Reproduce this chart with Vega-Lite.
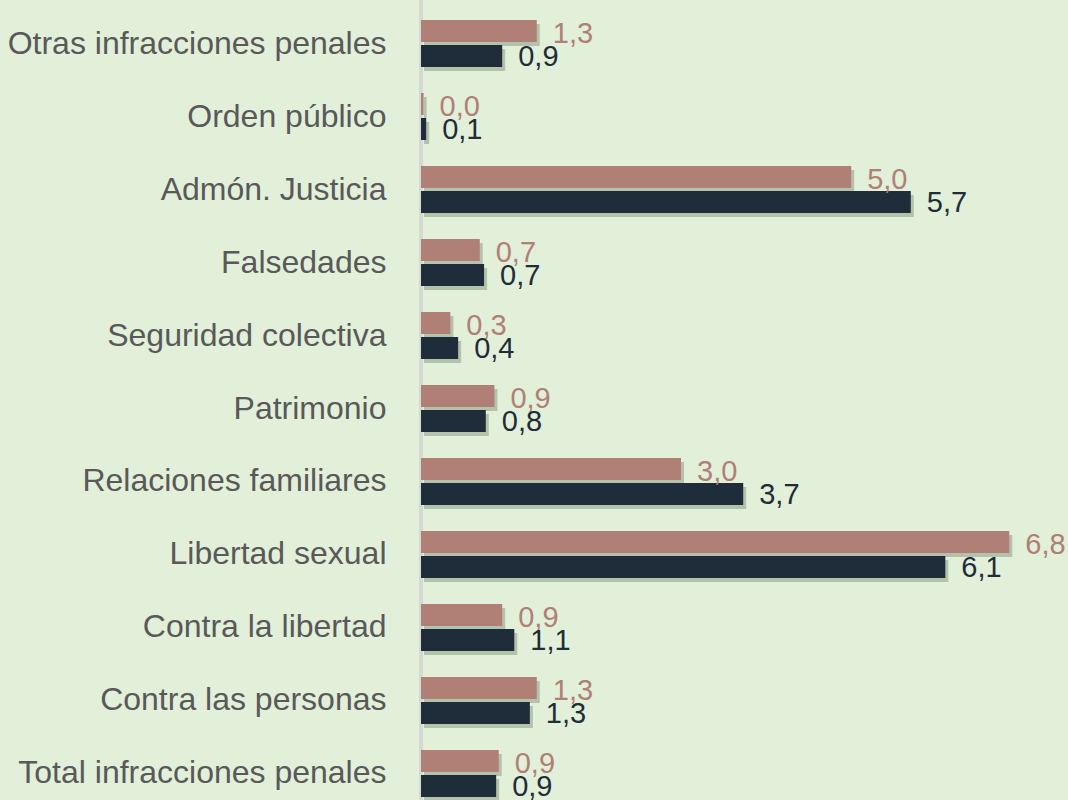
{
  "$schema": "https://vega.github.io/schema/vega-lite/v6.json",
  "autosize": "none",
  "padding": {"left": 421, "top": 0, "right": 0, "bottom": 0},
  "width": 647,
  "height": 800,
  "background": "#e2efd9",
  "config": {"view": {"stroke": null}, "font": "Liberation Sans"},
  "data": {"values": [
    {"cat": "Otras infracciones penales", "serie": "Serie 1", "v": 1.34, "label": "1,3"},
    {"cat": "Otras infracciones penales", "serie": "Serie 2", "v": 0.94, "label": "0,9"},
    {"cat": "Orden público", "serie": "Serie 1", "v": 0.03, "label": "0,0"},
    {"cat": "Orden público", "serie": "Serie 2", "v": 0.06, "label": "0,1"},
    {"cat": "Admón. Justicia", "serie": "Serie 1", "v": 4.98, "label": "5,0"},
    {"cat": "Admón. Justicia", "serie": "Serie 2", "v": 5.67, "label": "5,7"},
    {"cat": "Falsedades", "serie": "Serie 1", "v": 0.68, "label": "0,7"},
    {"cat": "Falsedades", "serie": "Serie 2", "v": 0.73, "label": "0,7"},
    {"cat": "Seguridad colectiva", "serie": "Serie 1", "v": 0.34, "label": "0,3"},
    {"cat": "Seguridad colectiva", "serie": "Serie 2", "v": 0.43, "label": "0,4"},
    {"cat": "Patrimonio", "serie": "Serie 1", "v": 0.85, "label": "0,9"},
    {"cat": "Patrimonio", "serie": "Serie 2", "v": 0.75, "label": "0,8"},
    {"cat": "Relaciones familiares", "serie": "Serie 1", "v": 3.01, "label": "3,0"},
    {"cat": "Relaciones familiares", "serie": "Serie 2", "v": 3.73, "label": "3,7"},
    {"cat": "Libertad sexual", "serie": "Serie 1", "v": 6.81, "label": "6,8"},
    {"cat": "Libertad sexual", "serie": "Serie 2", "v": 6.07, "label": "6,1"},
    {"cat": "Contra la libertad", "serie": "Serie 1", "v": 0.94, "label": "0,9"},
    {"cat": "Contra la libertad", "serie": "Serie 2", "v": 1.08, "label": "1,1"},
    {"cat": "Contra las personas", "serie": "Serie 1", "v": 1.34, "label": "1,3"},
    {"cat": "Contra las personas", "serie": "Serie 2", "v": 1.26, "label": "1,3"},
    {"cat": "Total infracciones penales", "serie": "Serie 1", "v": 0.9, "label": "0,9"},
    {"cat": "Total infracciones penales", "serie": "Serie 2", "v": 0.87, "label": "0,9"}
  ]},
  "encoding": {
    "y": {
      "field": "cat", "type": "nominal",
      "sort": ["Otras infracciones penales", "Orden público", "Admón. Justicia", "Falsedades", "Seguridad colectiva", "Patrimonio", "Relaciones familiares", "Libertad sexual", "Contra la libertad", "Contra las personas", "Total infracciones penales"],
      "scale": {"range": [20, 797], "paddingInner": 0.356, "paddingOuter": 0},
      "axis": {"title": null, "domain": false, "ticks": false, "labelPadding": 35, "labelFontSize": 32, "labelColor": "#595959", "labelFont": "Liberation Sans", "labelLimit": 420}
    },
    "x": {
      "field": "v", "type": "quantitative",
      "scale": {"domain": [0, 7.49], "nice": false},
      "axis": null
    }
  },
  "layer": [
    {
      "mark": {"type": "rule", "color": "#d6d9d3", "strokeWidth": 3},
      "encoding": {"x": {"datum": 0}, "y": null}
    },
    {
      "mark": {"type": "bar", "color": "#6f7f63", "opacity": 0.4, "xOffset": 3},
      "encoding": {
        "yOffset": {"field": "serie", "type": "nominal", "scale": {"paddingInner": 0.12, "range": [4, 51]}}
      }
    },
    {
      "mark": {"type": "bar"},
      "encoding": {
        "yOffset": {"field": "serie", "type": "nominal", "scale": {"paddingInner": 0.12}},
        "color": {"field": "serie", "type": "nominal", "legend": null, "scale": {"domain": ["Serie 1", "Serie 2"], "range": ["#b07f76", "#1f2c39"]}}
      }
    },
    {
      "mark": {"type": "text", "align": "left", "baseline": "middle", "dx": 16, "dy": 2, "fontSize": 29, "font": "Liberation Sans"},
      "encoding": {
        "yOffset": {"field": "serie", "type": "nominal", "scale": {"paddingInner": 0.12}},
        "text": {"field": "label"},
        "color": {"field": "serie", "type": "nominal", "legend": null, "scale": {"domain": ["Serie 1", "Serie 2"], "range": ["#b07f76", "#1f2c39"]}}
      }
    }
  ],
  "resolve": {"scale": {"yOffset": "independent"}}
}
